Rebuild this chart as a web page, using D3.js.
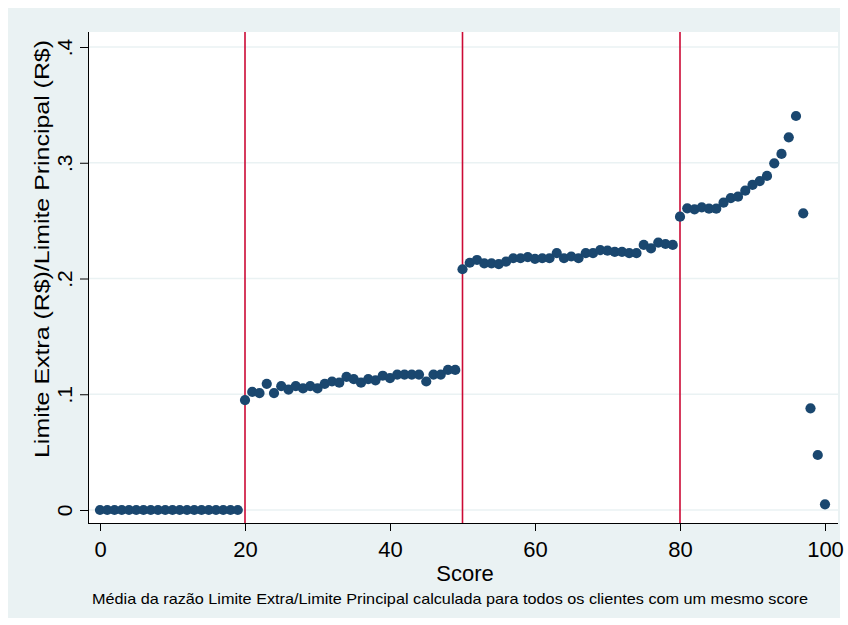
<!DOCTYPE html>
<html>
<head>
<meta charset="utf-8">
<script src="https://cdn.jsdelivr.net/npm/d3@7"></script>
<style>
  html, body { margin: 0; padding: 0; background: #ffffff; }
  svg { display: block; }
  text { font-family: "Liberation Sans", Arial, sans-serif; fill: #000; }
</style>
</head>
<body>
<script>
// ---------------- data ----------------
const scores = [
  0,1,2,3,4,5,6,7,8,9,10,11,12,13,14,15,16,17,18,19,
  20,21,22,23,24,25,26,27,28,29,30,31,32,33,34,35,36,37,38,39,
  40,41,42,43,44,45,46,47,48,49,50,51,52,53,54,55,56,57,58,59,
  60,61,62,63,64,65,66,67,68,69,70,71,72,73,74,75,76,77,78,79,
  80,81,82,83,84,85,86,87,88,89,90,91,92,93,94,95,96,97,98,99,100
];
const ratios = [
  0,0,0,0,0,0,0,0,0,0,0,0,0,0,0,0,0,0,0,0,
  0.095,0.102,0.101,0.109,0.101,0.107,0.104,0.107,0.105,0.107,
  0.105,0.109,0.111,0.110,0.115,0.113,0.110,0.113,0.112,0.116,
  0.114,0.117,0.117,0.117,0.117,0.111,0.117,0.117,0.121,0.121,
  0.208,0.2136,0.216,0.213,0.213,0.2125,0.2145,0.2175,0.2175,0.2185,
  0.217,0.2175,0.2175,0.222,0.2175,0.219,0.2175,0.222,0.222,0.2245,
  0.224,0.223,0.223,0.222,0.222,0.229,0.226,0.231,0.2298,0.229,
  0.2534,0.2606,0.2598,0.2615,0.2603,0.2603,0.2655,0.2695,0.2707,0.2759,
  0.2808,0.2842,0.2886,0.2995,0.3076,0.322,0.3404,0.2563,0.0878,0.0475,0.0049
];
const cutoffs = [20, 50, 80];
const xTicks = [0, 20, 40, 60, 80, 100];
const yTicks = [0, 0.1, 0.2, 0.3, 0.4];
const yTickLabels = ["0", ".1", ".2", ".3", ".4"];
const xTitle = "Score";
const yTitle = "Limite Extra (R$)/Limite Principal (R$)";
const caption = "Média da razão Limite Extra/Limite Principal calculada para todos os clientes com um mesmo score";

// ---------------- layout ----------------
const W = 848, H = 625;
const plot = { left: 88, right: 838, top: 32, bottom: 523 };
const bg = "#eaf2f3";
const navy = "#1a476f";
const red = "#cc0a35";

const svg = d3.select("body").append("svg").attr("width", W).attr("height", H);
svg.append("rect").attr("x", 0).attr("y", 0).attr("width", W).attr("height", H).attr("fill", "#fff");
svg.append("rect").attr("x", 8).attr("y", 8).attr("width", 832).attr("height", 610).attr("fill", bg);
svg.append("rect").attr("x", plot.left).attr("y", plot.top)
  .attr("width", plot.right - plot.left).attr("height", plot.bottom - plot.top).attr("fill", "#fff");

const x = d3.scaleLinear().domain([0, 100]).range([100, 825]);
const y = d3.scaleLinear().domain([0, 0.4]).range([510, 47]);

// gridlines
svg.append("g").selectAll("line").data(yTicks).join("line")
  .attr("x1", plot.left).attr("x2", plot.right)
  .attr("y1", d => y(d)).attr("y2", d => y(d))
  .attr("stroke", bg).attr("stroke-width", 1.5);

// cutoff lines
svg.append("g").selectAll("line").data(cutoffs).join("line")
  .attr("x1", d => x(d)).attr("x2", d => x(d))
  .attr("y1", plot.top).attr("y2", plot.bottom)
  .attr("stroke", red).attr("stroke-width", 1.6);

// points
const pts = scores.map((s, i) => ({ s, v: ratios[i] }));
svg.append("g").selectAll("circle").data(pts).join("circle")
  .attr("cx", d => x(d.s)).attr("cy", d => y(d.v)).attr("r", 5.1)
  .attr("fill", navy);

// y axis
const yAxis = svg.append("g").attr("transform", `translate(${plot.left},0)`)
  .call(d3.axisLeft(y).tickValues(yTicks).tickSize(8).tickPadding(0)
    .tickFormat((d, i) => yTickLabels[i]));
yAxis.select(".domain").attr("d", `M0.5,${plot.top}V${plot.bottom}`).attr("stroke", "#000");
yAxis.selectAll(".tick line").attr("stroke", "#000");
yAxis.selectAll(".tick text")
  .attr("x", null).attr("dy", null)
  .attr("transform", "translate(-16,0) rotate(-90)")
  .attr("text-anchor", "middle")
  .style("font-family", "'Liberation Sans', Arial, sans-serif")
  .style("font-size", "21px").attr("fill", "#000");

// x axis
const xAxis = svg.append("g").attr("transform", `translate(0,${plot.bottom})`)
  .call(d3.axisBottom(x).tickValues(xTicks).tickSize(8).tickPadding(10)
    .tickFormat(d3.format("d")));
xAxis.select(".domain").attr("d", `M${plot.left},0.5H${plot.right}`).attr("stroke", "#000");
xAxis.selectAll(".tick line").attr("stroke", "#000");
xAxis.selectAll(".tick text")
  .style("font-family", "'Liberation Sans', Arial, sans-serif")
  .style("font-size", "22px").attr("fill", "#000");

// titles
svg.append("text").attr("x", 465).attr("y", 581).attr("text-anchor", "middle")
  .style("font-size", "22px").text(xTitle);

svg.append("text").attr("transform", "translate(49,249) rotate(-90)")
  .attr("text-anchor", "middle")
  .attr("textLength", 418).attr("lengthAdjust", "spacingAndGlyphs")
  .style("font-size", "21px").text(yTitle);

svg.append("text").attr("x", 92).attr("y", 604)
  .attr("textLength", 716).attr("lengthAdjust", "spacingAndGlyphs")
  .style("font-size", "15px").text(caption);
</script>
</body>
</html>
